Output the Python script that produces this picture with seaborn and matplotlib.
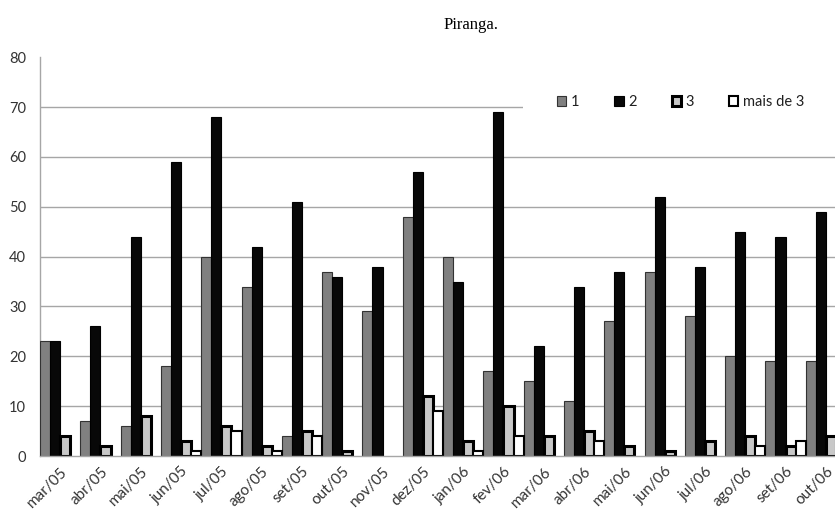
import numpy as np
import pandas as pd
import seaborn as sns
import matplotlib.pyplot as plt
from matplotlib.patches import Patch

meses = ["mar/05", "abr/05", "mai/05", "jun/05", "jul/05", "ago/05", "set/05",
         "out/05", "nov/05", "dez/05", "jan/06", "fev/06", "mar/06", "abr/06",
         "mai/06", "jun/06", "jul/06", "ago/06", "set/06", "out/06"]
serie_1 = [23, 7, 6, 18, 40, 34, 4, 37, 29, 48, 40, 17, 15, 11, 27, 37, 28, 20, 19, 19]
serie_2 = [23, 26, 44, 59, 68, 42, 51, 36, 38, 57, 35, 69, 22, 34, 37, 52, 38, 45, 44, 49]
serie_3 = [4, 2, 8, 3, 6, 2, 5, 1, 0, 12, 3, 10, 4, 5, 2, 1, 3, 4, 2, 4]
serie_4 = [0, 0, 0, 1, 5, 1, 4, 0, 0, 9, 1, 4, 0, 3, 0, 0, 0, 2, 3, 0]
nomes = ["1", "2", "3", "mais de 3"]
titulo = "Piranga."

rows = []
for nome, vals in zip(nomes, [serie_1, serie_2, serie_3, serie_4]):
    for m, v in zip(meses, vals):
        rows.append({"mes": m, "serie": nome, "valor": v})
df = pd.DataFrame(rows)

sns.set_style("white")
plt.rcParams["font.family"] = ["Lato", "DejaVu Sans"]

fig = plt.figure(figsize=(8.35, 5.14), dpi=100)
ax = fig.add_axes([0.0479, 0.1128, 0.9653, 0.776])

styles = {
    "1": dict(face="#808080", edge="#333333", lw=0.8),
    "2": dict(face="#080808", edge="#000000", lw=0.8),
    "3": dict(face="#c8c8c8", edge="#000000", lw=2.2),
    "mais de 3": dict(face="#ffffff", edge="#000000", lw=1.5),
}
pal = {k: v["face"] for k, v in styles.items()}

sns.barplot(data=df, x="mes", y="valor", hue="serie", hue_order=nomes,
            order=meses, palette=pal, width=1.0, gap=0, dodge=True,
            errorbar=None, legend=False, ax=ax, saturation=1)

for cont, nome in zip(ax.containers, nomes):
    st = styles[nome]
    for bar in cont:
        bar.set_facecolor(st["face"])
        bar.set_edgecolor(st["edge"])
        bar.set_linewidth(st["lw"] if bar.get_height() > 0 else 0)
        bar.set_zorder(3)

ax.set_xlim(-0.5, len(meses) - 0.5)
ax.set_ylim(0, 80)
ax.set_yticks(np.arange(0, 81, 10))
ax.yaxis.grid(True, color="#a6a6a6", lw=1.0)
ax.set_axisbelow(True)
gl = ax.get_ygridlines()
gl[-1].set_visible(False)
gl[0].set_visible(False)

for s in ["top", "right"]:
    ax.spines[s].set_visible(False)
for s in ["left", "bottom"]:
    ax.spines[s].set_color("#a6a6a6")
    ax.spines[s].set_linewidth(1.0)
ax.spines["bottom"].set_zorder(4)

ax.set_xlabel("")
ax.set_ylabel("")
ax.set_xticks(range(len(meses)))
ax.set_xticklabels(meses, rotation=45, ha="right", rotation_mode="anchor",
                   fontsize=11, color="#333333")
ax.set_xticks(np.arange(-0.5, len(meses), 1), minor=True)
ax.tick_params(axis="x", which="major", length=0, pad=6)
ax.tick_params(axis="x", which="minor", length=6, color="#a6a6a6", width=1, direction="out")
ax.tick_params(axis="y", length=4, color="#a6a6a6", labelsize=10.5, labelcolor="#333333",
               direction="out", pad=6)

handles = [Patch(facecolor=styles[n]["face"], edgecolor=styles[n]["edge"],
                 linewidth=styles[n]["lw"]) for n in nomes]
leg = fig.legend(handles, nomes, loc="center", bbox_to_anchor=(0.815, 0.801),
                 ncol=4, frameon=True, fontsize=10.5, handlelength=0.65,
                 handleheight=0.65, handletextpad=0.3, columnspacing=2.4,
                 borderpad=2.3, borderaxespad=0)
leg.get_frame().set_facecolor("white")
leg.get_frame().set_edgecolor("none")
leg.get_frame().set_alpha(1)
for t in leg.get_texts():
    t.set_color("#202020")

fig.text(0.564, 0.951, titulo, ha="center", va="center",
         family=["Liberation Serif", "DejaVu Serif"], fontsize=12, color="#000000")

fig.savefig("out.png", dpi=100)
